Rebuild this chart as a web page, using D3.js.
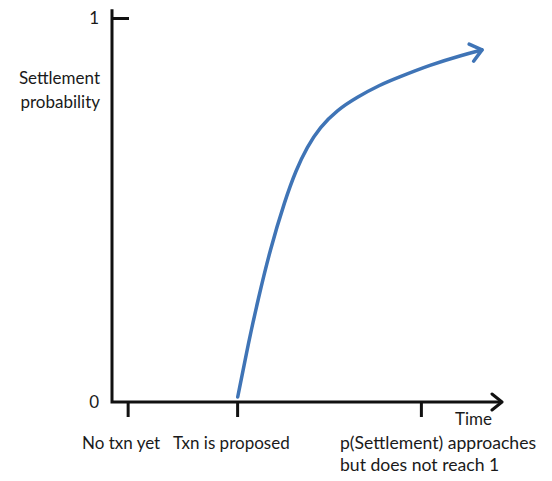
<!DOCTYPE html>
<html>
<head>
<meta charset="utf-8">
<script src="https://cdn.jsdelivr.net/npm/d3@7"></script>
<style>
  html, body { margin: 0; padding: 0; background: #fff; }
  svg { display: block; }
  text { font-family: "Lato", "Open Sans", sans-serif; fill: #1a1a1a; }
</style>
</head>
<body>
<svg id="chart" width="552" height="481"></svg>
<script>
// ---- data ----
const timeValues  = [32.15, 35.04, 37.34, 40.41, 44.25, 47.06, 49.87, 53.20, 57.54, 62.66, 68.54, 72.89, 81.33, 89.77, 94.63];
const probValues  = [0.013, 0.161, 0.266, 0.396, 0.526, 0.604, 0.664, 0.716, 0.760, 0.794, 0.826, 0.844, 0.878, 0.904, 0.917];
const xTickValues = [4, 32, 79];
const xTickLabels = [["No txn yet"], ["Txn is proposed"], ["p(Settlement) approaches", "but does not reach 1"]];
const yTickValues = [0, 1];
const yTickLabels = ["0", "1"];
const yTitle = ["Settlement", "probability"];
const xTitle = "Time";

// ---- layout ----
const svg = d3.select("#chart");
const x = d3.scaleLinear().domain([0, 100]).range([112, 503]);
const y = d3.scaleLinear().domain([0, 1]).range([402, 18]);
const lineColor = "#3f74b6";

const defs = svg.append("defs");
function chevron(id, color, w, s) {
  defs.append("marker")
    .attr("id", id)
    .attr("viewBox", "-14 -11 16 22")
    .attr("refX", 0).attr("refY", 0)
    .attr("markerWidth", 16).attr("markerHeight", 22)
    .attr("markerUnits", "userSpaceOnUse")
    .attr("orient", "auto")
    .append("path")
    .attr("d", `M${-s},${-s * 0.8} L0,0 L${-s},${s * 0.8}`)
    .attr("fill", "none")
    .attr("stroke", color)
    .attr("stroke-width", w)
    .attr("stroke-linecap", "round")
    .attr("stroke-linejoin", "round");
}
chevron("arrowAxis", "#111", 3, 10);
chevron("arrowCurve", lineColor, 3.5, 11);

// x axis ticks (downward)
const xAxis = d3.axisBottom(x).tickValues(xTickValues).tickSize(15).tickFormat("");
const gx = svg.append("g").attr("transform", `translate(0,${y(0)})`).call(xAxis);
gx.select(".domain").remove();
gx.selectAll(".tick line").attr("stroke", "#111").attr("stroke-width", 3);

// y axis tick at 1 (pointing right)
const yAxis = d3.axisRight(y).tickValues([1]).tickSize(17).tickFormat("");
const gy = svg.append("g").attr("transform", `translate(${x(0)},0)`).call(yAxis);
gy.select(".domain").remove();
gy.selectAll(".tick line").attr("stroke", "#111").attr("stroke-width", 3);

// axis lines
svg.append("path")
  .attr("d", `M${x(0)},${y(1.023)} L${x(0)},${y(0)} L${x(100) - 1},${y(0)}`)
  .attr("fill", "none").attr("stroke", "#111").attr("stroke-width", 3)
  .attr("stroke-linejoin", "miter")
  .attr("marker-end", "url(#arrowAxis)");

// y tick labels
svg.selectAll(".ylab").data(yTickValues).enter().append("text")
  .attr("class", "ylab")
  .attr("x", x(0) - 13)
  .attr("y", d => y(d) + 2)
  .attr("text-anchor", "end")
  .attr("dominant-baseline", "middle")
  .attr("font-size", 17)
  .text((d, i) => yTickLabels[i]);

// y title
svg.append("text")
  .attr("text-anchor", "end")
  .attr("font-size", 17)
  .selectAll("tspan").data(yTitle).enter().append("tspan")
  .attr("x", 100)
  .attr("y", (d, i) => 84 + i * 24)
  .text(d => d);

// x title
svg.append("text")
  .attr("x", 455).attr("y", 425)
  .attr("font-size", 17)
  .text(xTitle);

// x tick labels
const labelX = [82, 173, 340];
xTickLabels.forEach((lines, i) => {
  const t = svg.append("text").attr("font-size", i === 2 ? 17.6 : 17);
  lines.forEach((s, j) => {
    t.append("tspan").attr("x", labelX[i]).attr("y", 449 + j * 22).text(s);
  });
});

// curve
const pts = timeValues.map((t, i) => [t, probValues[i]]);
const line = d3.line().x(d => x(d[0])).y(d => y(d[1])).curve(d3.curveBasis);
svg.append("path")
  .datum(pts)
  .attr("d", line)
  .attr("fill", "none")
  .attr("stroke", lineColor)
  .attr("stroke-width", 3.5)
  .attr("stroke-linecap", "round")
  .attr("marker-end", "url(#arrowCurve)");
</script>
</body>
</html>
